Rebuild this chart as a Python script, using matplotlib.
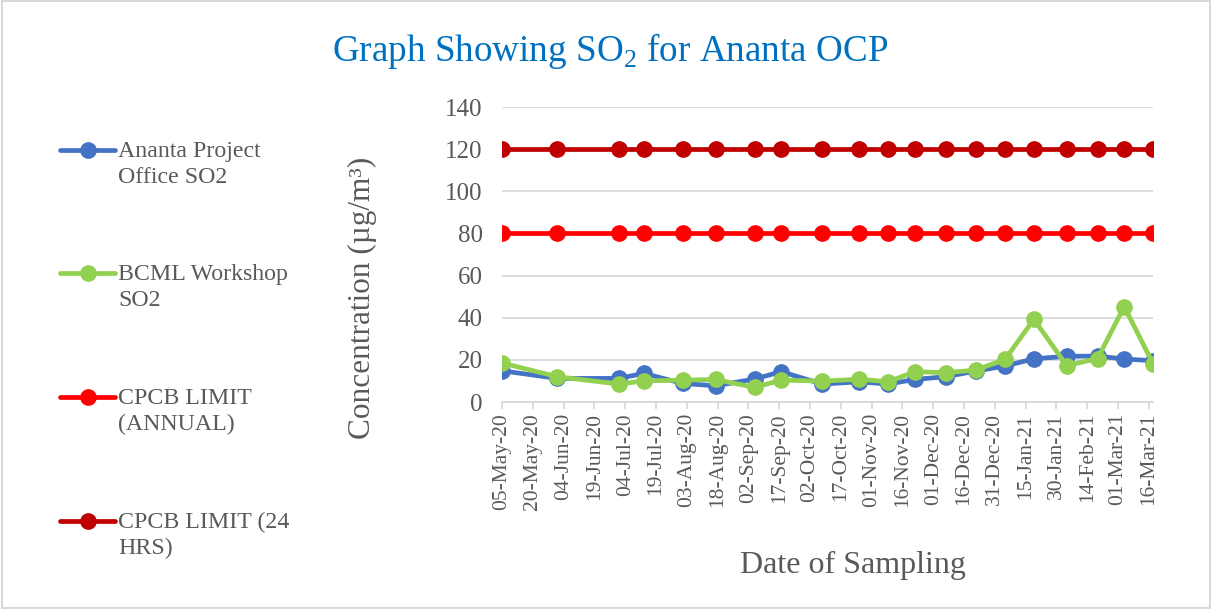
import pandas as pd
import matplotlib
matplotlib.use('Agg')
import matplotlib.pyplot as plt
import matplotlib.dates as mdates
from matplotlib.lines import Line2D
from matplotlib.patches import Rectangle

plt.rcParams['font.family'] = ['Liberation Serif', 'DejaVu Serif']
plt.rcParams['mathtext.fontset'] = 'custom'
plt.rcParams['mathtext.rm'] = 'Liberation Serif'

# Sampling dates and SO2 readings
dates = pd.to_datetime([
    '2020-05-05', '2020-06-01', '2020-07-01', '2020-07-13', '2020-08-01',
    '2020-08-17', '2020-09-05', '2020-09-18', '2020-10-08', '2020-10-26',
    '2020-11-09', '2020-11-22', '2020-12-07', '2020-12-22', '2021-01-05',
    '2021-01-19', '2021-02-04', '2021-02-19', '2021-03-04', '2021-03-18'])
ananta_office = [14.8, 11.2, 11.2, 13.6, 8.8, 7.7, 10.9, 14.4, 8.5, 9.6,
                 8.5, 10.7, 12.0, 14.7, 17.1, 20.5, 21.7, 21.8, 20.4, 19.6]
bcml_workshop = [18.5, 12.0, 8.5, 10.0, 10.4, 10.7, 6.9, 10.4, 9.9, 10.8,
                 9.6, 14.4, 13.9, 15.2, 20.3, 39.2, 17.3, 20.6, 45.3, 18.2]
limit_annual = [80] * len(dates)
limit_24hr = [120] * len(dates)

labels = ['Ananta Project\nOffice SO2', 'BCML Workshop\nSO2',
          'CPCB LIMIT\n(ANNUAL)', 'CPCB LIMIT (24\nHRS)']
colors = ['#4472C4', '#92D050', '#FF0000', '#C00000']
series = [ananta_office, bcml_workshop, limit_annual, limit_24hr]

text_color = '#595959'
grid_color = '#D9D9D9'

fig = plt.figure(figsize=(12.12, 6.09), dpi=100)
ax = fig.add_axes([0.4142, 0.3399, 0.9513 - 0.4142, 0.8243 - 0.3399])

for vals, c in zip(series, colors):
    ax.plot(dates, vals, color=c, linewidth=3.4, marker='o', markersize=11,
            solid_capstyle='round')

ax.set_ylim(0, 140)
ax.set_yticks(range(0, 141, 20))
ax.set_xlim(dates[0], dates[-1])
ax.set_xticks(pd.date_range('2020-05-05', '2021-03-16', freq='15D'))
ax.xaxis.set_major_formatter(mdates.DateFormatter('%d-%b-%y'))

ax.grid(axis='y', color=grid_color, linewidth=1.3)
ax.set_axisbelow(True)
for s in ['top', 'right', 'left']:
    ax.spines[s].set_visible(False)
ax.spines['bottom'].set_color(grid_color)
ax.spines['bottom'].set_linewidth(1.3)
ax.tick_params(axis='y', length=0, pad=14, labelsize=18, labelcolor=text_color)
ax.tick_params(axis='x', length=5, width=1.3, color=grid_color, pad=3,
               labelsize=15.5, labelcolor=text_color, rotation=90)

fig.text(0.503, 0.916, 'Graph Showing SO$_2$ for Ananta OCP', color='#0070C0',
         fontsize=26.7, ha='center', va='center')
fig.text(0.2987, 0.511, 'Concentration (µg/m³)', color=text_color, fontsize=22.5,
         rotation=90, ha='center', va='center')
fig.text(0.704, 0.072, 'Date of Sampling', color=text_color, fontsize=23,
         ha='center', va='center')

# legend on the left, handle aligned with the first text line
leg_y = [0.7537, 0.5517, 0.3481, 0.1445]
for lab, c, y in zip(labels, colors, leg_y):
    fig.add_artist(Line2D([0.0495, 0.0949], [y, y], color=c, linewidth=3.4,
                          solid_capstyle='round', transform=fig.transFigure))
    fig.add_artist(Line2D([0.0722], [y], color=c, marker='o', markersize=11,
                          transform=fig.transFigure))
    fig.text(0.0974, y + 0.015, lab, color=text_color, fontsize=17.2,
             ha='left', va='top', linespacing=1.3)

fig.add_artist(Rectangle((0.002, 0.002), 0.996, 0.996, fill=False,
                         edgecolor=grid_color, linewidth=1.5,
                         transform=fig.transFigure))

fig.savefig('out.png', dpi=100)
